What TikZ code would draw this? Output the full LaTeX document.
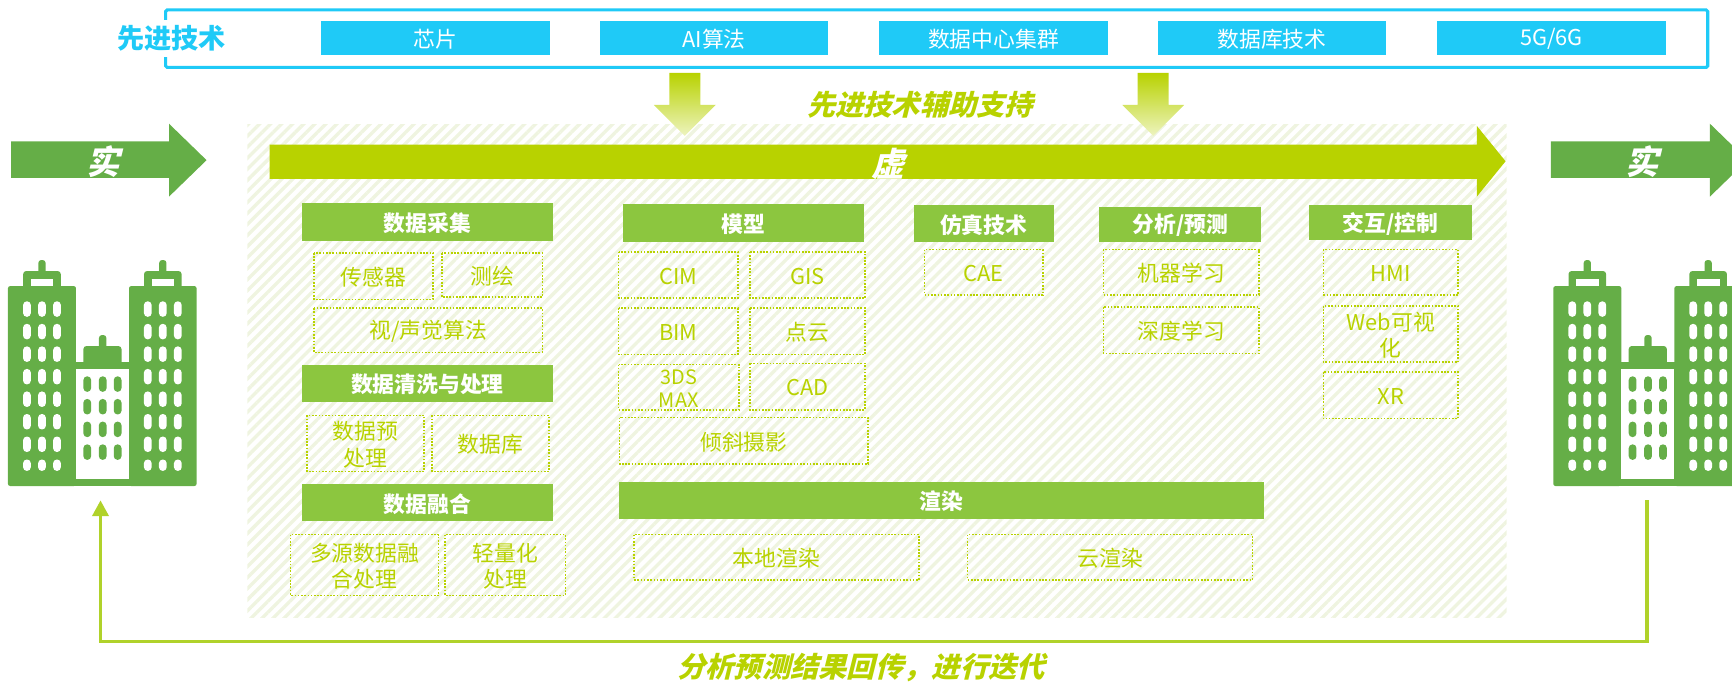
\documentclass[tikz,border=0pt]{standalone}
\usepackage{fontspec}
\setmainfont{Noto Sans CJK SC}
\newfontfamily\slantfont[FakeSlant=0.25,BoldFeatures={FakeSlant=0.25}]{Noto Sans CJK SC}
\usetikzlibrary{arrows.meta,patterns.meta}

\definecolor{skyblue}{HTML}{1FCAF7}
\definecolor{limegreen}{HTML}{B8D200}
\definecolor{loopgreen}{HTML}{B0D22A}
\definecolor{leafgreen}{HTML}{8CC63F}
\definecolor{towergreen}{HTML}{65AE47}
\definecolor{hatchgreen}{HTML}{EFF4E0}

\tikzset{
    bodytext/.style={font=\fontsize{14.8}{18}\selectfont,align=center,inner sep=0pt,yshift=-0.8pt},
    smalltext/.style={bodytext,font=\fontsize{13.5}{15.5}\selectfont},
    skybox/.style={fill=skyblue,text=white},
    headbox/.style={fill=leafgreen,text=white},
    dotbox/.style={draw=limegreen,line width=1.1pt,dash pattern=on 1.1pt off 1.1pt,text=limegreen},
    headtext/.style={bodytext,font=\fontsize{14.8}{18}\selectfont\bfseries},
    slanttext/.style={font=\fontsize{19.2}{22}\slantfont\bfseries,inner sep=0pt},
    bigslant/.style={font=\fontsize{22.5}{25}\slantfont\bfseries,inner sep=0pt,text=white},
    window/.style={rounded corners=2.5pt}
}

\begin{document}
\begin{tikzpicture}[x=0.75pt,y=-0.75pt]
    \useasboundingbox (0,0) rectangle (1568,617);
    \clip (0,0) rectangle (1568,617);

    % hatched area
    \path[pattern={Lines[angle=45,distance=5.3pt,line width=2.3pt]},pattern color=hatchgreen]
        (224,113) rectangle (1364,559);

    % top frame
    \draw[skyblue,line width=2.1pt,rounded corners=1pt] (150,9) rectangle (1546,61);
    \node[fill=white,text=skyblue,font=\fontsize{18.4}{22}\selectfont\bfseries,inner xsep=0pt,minimum height=25pt]
        (techlabel) at (155.5,35) {先进技术};
    \foreach \left/\name/\label in {291/chip/芯片,543/algo/AI算法,796/cluster/数据中心集群,1048/dbtech/数据库技术,1301/net/{5G/6G}} {
        \path[skybox] (\left,19) rectangle node[bodytext] (\name) {\label} (\left+207,50);
    }

    % support arrows
    \foreach \mid in {620,1044} {
        \shade[top color=limegreen,bottom color=limegreen!25]
            (\mid-14,66) -- (\mid+14,66) -- (\mid+14,95) -- (\mid+28,95)
            -- (\mid,123) -- (\mid-28,95) -- (\mid-14,95) -- cycle;
    }
    \node[slanttext,text=limegreen] (support) at (833,95) {先进技术辅助支持};

    % real and virtual arrows
    \path[fill=towergreen]
        (10,128) -- (153,128) -- (153,112) -- (187,145)
        -- (153,178) -- (153,161) -- (10,161) -- cycle;
    \node[bigslant] (realin) at (93,146) {实};
    \path[fill=towergreen]
        (1404,128) -- (1548,128) -- (1548,112) -- (1582,145)
        -- (1548,178) -- (1548,161) -- (1404,161) -- cycle;
    \node[bigslant] (realout) at (1487,146) {实};
    \path[fill=limegreen]
        (244,131) -- (1337,131) -- (1337,114) -- (1363,146)
        -- (1337,178) -- (1337,162) -- (244,162) -- cycle;
    \node[bigslant] (virtual) at (804,148) {虚};

    % header bars
    \path[headbox] (273,184) rectangle node[headtext] (collect) {数据采集} (501,218);
    \path[headbox] (273,330) rectangle node[headtext] (clean) {数据清洗与处理} (501,364);
    \path[headbox] (273,438) rectangle node[headtext] (fusion) {数据融合} (501,472);
    \path[headbox] (564,185) rectangle node[headtext] (model) {模型} (782,219);
    \path[headbox] (827,186) rectangle node[headtext] (sim) {仿真技术} (954,219);
    \path[headbox] (995,187) rectangle node[headtext] (predict) {分析/预测} (1142,219);
    \path[headbox] (1185,186) rectangle node[headtext] (control) {交互/控制} (1333,217);
    \path[headbox] (560,436) rectangle node[headtext] (render) {渲染} (1144,470);

    % dotted boxes
    \draw[dotbox] (284,229) rectangle node[bodytext] (sensor) {传感器} (392,271);
    \draw[dotbox] (400,229) rectangle node[bodytext] (survey) {测绘} (491,269);
    \draw[dotbox] (284,279) rectangle node[bodytext] (vision) {视/声觉算法} (491,319);
    \draw[dotbox] (278,376) rectangle node[bodytext] (prep) {数据预\\处理} (384,427);
    \draw[dotbox] (391,376) rectangle node[bodytext] (db) {数据库} (497,427);
    \draw[dotbox] (263,484) rectangle node[bodytext] (multi) {多源数据融\\合处理} (397,539);
    \draw[dotbox] (403,484) rectangle node[bodytext] (light) {轻量化\\处理} (512,539);
    \draw[dotbox] (560,228) rectangle node[bodytext] (cim) {CIM} (668,270);
    \draw[dotbox] (679,228) rectangle node[bodytext] (gis) {GIS} (783,270);
    \draw[dotbox] (560,279) rectangle node[bodytext] (bim) {BIM} (668,321);
    \draw[dotbox] (679,279) rectangle node[bodytext] (cloud) {点云} (783,321);
    \draw[dotbox] (560,330) rectangle node[smalltext] (max) {3DS\\MAX} (669,371);
    \draw[dotbox] (679,329) rectangle node[bodytext] (cad) {CAD} (783,371);
    \draw[dotbox] (561,378) rectangle node[bodytext] (oblique) {倾斜摄影} (786,420);
    \draw[dotbox] (574,484) rectangle node[bodytext] (local) {本地渲染} (832,525);
    \draw[dotbox] (876,484) rectangle node[bodytext] (remote) {云渲染} (1134,525);
    \draw[dotbox] (837,226) rectangle node[bodytext] (cae) {CAE} (944,267);
    \draw[dotbox] (999,226) rectangle node[bodytext] (ml) {机器学习} (1140,267);
    \draw[dotbox] (999,278) rectangle node[bodytext] (dl) {深度学习} (1140,320);
    \draw[dotbox] (1198,226) rectangle node[bodytext] (hmi) {HMI} (1320,267);
    \draw[dotbox] (1198,277) rectangle node[bodytext] (web) {Web可视\\化} (1320,328);
    \draw[dotbox] (1198,337) rectangle node[bodytext] (xr) {XR} (1320,379);

    % buildings
    \foreach \bx in {0,1399} {
        \begin{scope}[shift={(\bx,0)}]
            \path[fill=towergreen,rounded corners=1.5pt]
                (7.2,259) rectangle (68.8,440) (116.8,259) rectangle (178,440);
            \path[fill=towergreen] (60,327.5) rectangle (125,440);
            \path[fill=towergreen,rounded corners=2pt] (75.5,313.3) rectangle (110,335);
            \path[fill=towergreen,rounded corners=2pt] (89.6,303.3) rectangle (96.3,320);
            \path[fill=white] (68.8,334) rectangle (116.8,433.4);
            \foreach \tx in {0,109.4} {
                \path[fill=towergreen,rounded corners=2pt] (21+\tx,245.4) rectangle (55+\tx,265);
                \path[fill=towergreen,rounded corners=2pt] (34.7+\tx,235.4) rectangle (41.3+\tx,250);
                \path[fill=white] (27.8+\tx,252.3) rectangle (48.3+\tx,259);
                \foreach \wx in {24.4,38,51.6} {
                    \foreach \wy in {279.8,300.2,320.6,341,361.4,381.8,402.2} {
                        \path[fill=white,window] (\wx+\tx-3.5,\wy-7) rectangle (\wx+\tx+3.5,\wy+7);
                    }
                    \path[fill=white,window] (\wx+\tx-3.5,416) rectangle (\wx+\tx+3.5,426.3);
                }
            }
            \foreach \wx in {79,93,106.5} {
                \foreach \wy in {347.7,368.2,388.7,409.3} {
                    \path[fill=towergreen,window] (\wx-3.5,\wy-7) rectangle (\wx+3.5,\wy+7);
                }
            }
        \end{scope}
    }

    % feedback line
    \coordinate (loopstart) at (1491,453);
    \coordinate (loopturn) at (800,581);
    \coordinate (loopend) at (91,453);
    \draw[loopgreen,line width=2.2pt,-{Triangle[length=10.7pt,width=11pt]}]
        (loopstart) |- (loopturn) -| (loopend);
    \node[slanttext,text=limegreen] (feedback) at (779.5,604) {分析预测结果回传，进行迭代};
\end{tikzpicture}
\end{document}
